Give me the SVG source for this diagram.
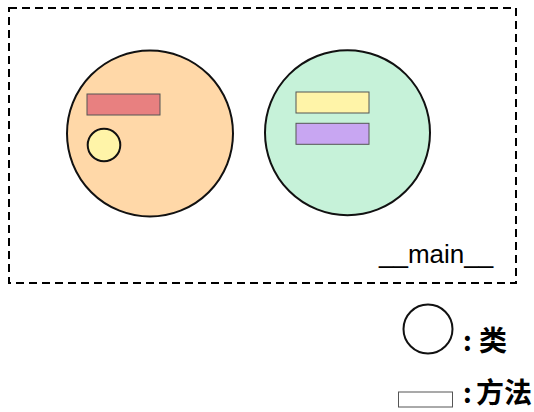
<svg xmlns="http://www.w3.org/2000/svg" width="534" height="412" viewBox="0 0 534 412">
<style>
.big{stroke:#111;stroke-width:2}
.m{stroke:#555;stroke-width:1}
.t{font-family:"Liberation Sans","Noto Sans CJK SC",sans-serif;fill:#000}
.cj{font-family:"Noto Sans CJK SC",sans-serif;font-weight:bold;fill:#000}
</style>
<rect width="534" height="412" fill="#fff"/>
<g id="main">
<rect x="9" y="8" width="507" height="275" fill="none" stroke="#000" stroke-width="2" stroke-dasharray="8 5"/>
<text class="t" x="379" y="263" font-size="26">__main__</text>
</g>
<g id="classA">
<circle class="big" cx="150" cy="133.5" r="83" fill="#FFD8A8"/>
<rect class="m" x="87" y="94" width="73" height="21" fill="#E88080"/>
<circle class="big" cx="104" cy="145" r="16.3" fill="#FFF4A8"/>
</g>
<g id="classB">
<circle class="big" cx="347.5" cy="132.7" r="82.5" fill="#C6F2D9"/>
<rect class="m" x="296" y="92" width="73" height="21" fill="#FFF4A8"/>
<rect class="m" x="296" y="123.3" width="73" height="21" fill="#C8A6F2"/>
</g>
<g id="legend">
<circle cx="428" cy="329" r="24.5" fill="#fff" stroke="#111" stroke-width="2"/>
<text class="cj" x="463" y="351" font-size="27">:</text>
<text class="cj" x="479" y="351" font-size="28">类</text>
<rect x="398.5" y="392" width="54" height="15" fill="#fff" stroke="#555" stroke-width="1"/>
<text class="cj" x="463" y="403" font-size="27">:</text>
<text class="cj" x="476" y="403" font-size="28">方法</text>
</g>
<g id="connectors"></g>
</svg>
